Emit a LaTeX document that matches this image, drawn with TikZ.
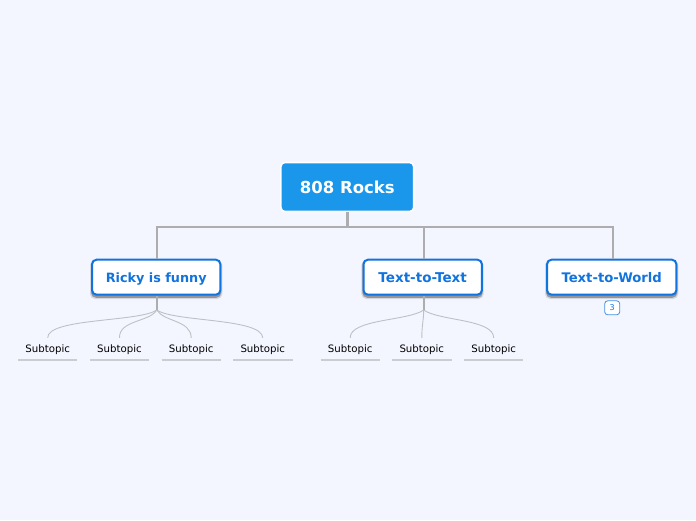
\documentclass[tikz,border=0pt]{standalone}
\usepackage{fontspec}
\setmainfont{DejaVu Sans}
\definecolor{bgc}{HTML}{F3F6FF}
\definecolor{rootc}{HTML}{1A96EA}
\definecolor{bluec}{HTML}{1173DE}
\definecolor{trunkc}{HTML}{ADADB0}
\definecolor{twigc}{HTML}{BFC0C5}
\definecolor{linec}{HTML}{CCCDD2}
\tikzset{
  x=1pt,y=-1pt,
  rootbox/.style={fill=rootc,draw=white,line width=1.6pt,rounded corners=4pt,minimum width=132.8pt,minimum height=49pt,inner sep=0pt,text=white,text height=14pt,text depth=1.4pt,font=\fontsize{16.5}{18}\selectfont\bfseries},
  mainbox/.style={fill=white,draw=bluec,line width=2pt,rounded corners=4.5pt,minimum height=35pt,inner sep=0pt,text=bluec,text height=12.4pt,text depth=2.5pt},
  subbox/.style={minimum width=59pt,minimum height=22pt,inner sep=0pt,text=black,text height=9.4pt,text depth=2.6pt,font=\fontsize{10.2}{12}\selectfont},
  underl/.style={draw=linec,line width=1.7pt},
  trunk/.style={draw=trunkc,line width=2pt},
  twig/.style={draw=twigc,line width=.9pt},
  shadowbox/.style={fill=black,rounded corners=5pt},
  badge/.style={fill=white,draw=bluec!80,line width=.8pt,rounded corners=3pt,minimum width=15pt,minimum height=14pt,inner sep=0pt,text=bluec,font=\fontsize{8}{9}\selectfont},
}
\begin{document}
\begin{tikzpicture}
\useasboundingbox[fill=bgc] (0,0) rectangle (696,520);
\node[rootbox] (root) at (347.3,187) {808 Rocks};
\coordinate (j) at (347.3,227.3);
\draw[trunk,line width=2.7pt] (root.south) -- (j);
\foreach \l/\r in {91/221.3,362.3/482.7,546/677.3}{
  \fill[shadowbox,opacity=.12] (\l-1,260) rectangle (\r+1,299);
  \fill[shadowbox,opacity=.3] (\l,260) rectangle (\r,297.8);
}
\node[mainbox,minimum width=128.3pt,font=\fontsize{12.8}{15}\selectfont\bfseries] (a) at (156.2,277.2) {Ricky is funny};
\node[mainbox,minimum width=118.4pt,font=\fontsize{13.5}{15}\selectfont\bfseries] (b) at (422.7,277.2) {Text-to-Text};
\node[mainbox,minimum width=129.3pt,font=\fontsize{13.2}{15}\selectfont\bfseries] (c) at (611.7,277.2) {Text-to-World};
\node[badge] (n) at (612.2,307.8) {3};
\draw[trunk] ([xshift=.5pt]a.north) |- (j);
\draw[trunk] ([xshift=1pt]c.north) |- (j);
\draw[trunk] ([xshift=1pt]b.north) |- (j);
\foreach \nm/\cx in {a1/47.7,a2/119.5,a3/191.2,a4/262.8,b1/350.2,b2/421.8,b3/493.7}{
  \node[subbox] (\nm) at (\cx,349) {Subtopic};
  \draw[underl] (\nm.south west) -- (\nm.south east);
}
\coordinate (ha) at (156.7,310);
\coordinate (hb) at (423.7,310);
\draw[trunk,line width=1.6pt] ([xshift=.5pt]a.south) -- (ha);
\draw[trunk,line width=1.6pt] ([xshift=1pt]b.south) -- (hb);
\draw[twig] (ha) .. controls (140,322) and (47,318) .. (a1.north);
\draw[twig] (ha) .. controls (150,322) and (119,320) .. (a2.north);
\draw[twig] (ha) .. controls (164,322) and (191,320) .. (a3.north);
\draw[twig] (ha) .. controls (174,322) and (262,318) .. (a4.north);
\draw[twig] (hb) .. controls (408,321) and (350,319) .. (b1.north);
\draw[twig] (hb) .. controls (423.7,320) and (421.8,325) .. (b2.north);
\draw[twig] (hb) .. controls (439,321) and (493.7,319) .. (b3.north);
\end{tikzpicture}
\end{document}
